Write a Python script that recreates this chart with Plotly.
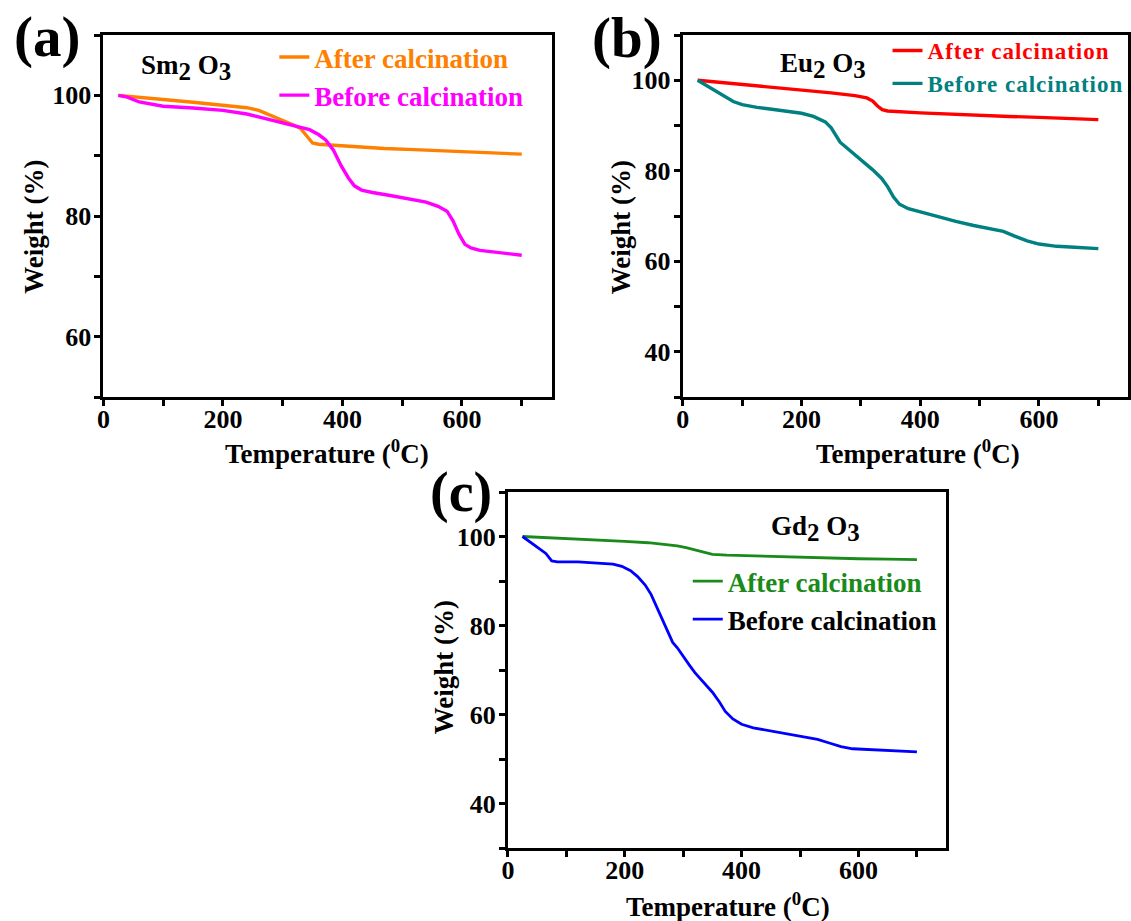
import plotly.graph_objects as go

# ---------------- data ----------------
# (a) Sm2O3
a_after_T = [25, 50, 100, 150, 200, 240, 260, 280, 300, 320, 330, 338, 345, 350, 360, 380, 420, 470, 520, 570, 620, 670, 700]
a_after_W = [100, 99.8, 99.3, 98.85, 98.4, 97.95, 97.5, 96.7, 95.8, 95.0, 94.5, 93.6, 92.6, 92.1, 91.9, 91.75, 91.45, 91.2, 91.0, 90.8, 90.6, 90.4, 90.25]
a_before_T = [25, 40, 60, 80, 100, 150, 200, 240, 280, 320, 345, 360, 372, 385, 398, 410, 420, 432, 450, 480, 510, 540, 560, 575, 585, 595, 605, 615, 630, 660, 700]
a_before_W = [100, 99.7, 98.9, 98.5, 98.2, 97.9, 97.5, 96.9, 95.9, 94.9, 94.3, 93.5, 92.6, 90.9, 88.3, 86.3, 85.0, 84.3, 83.9, 83.4, 82.9, 82.3, 81.6, 80.8, 79.2, 77.0, 75.3, 74.7, 74.3, 73.9, 73.5]

# (b) Eu2O3
b_after_T = [25, 100, 150, 200, 250, 290, 310, 320, 328, 336, 345, 400, 450, 500, 550, 600, 650, 700]
b_after_W = [100, 99.1, 98.5, 97.9, 97.2, 96.6, 96.1, 95.4, 94.3, 93.5, 93.2, 92.8, 92.5, 92.2, 92.0, 91.8, 91.6, 91.3]
b_before_T = [25, 40, 55, 70, 85, 100, 125, 150, 175, 200, 220, 240, 250, 258, 265, 275, 290, 305, 320, 335, 345, 355, 365, 380, 400, 430, 460, 490, 520, 540, 560, 580, 600, 630, 660, 700]
b_before_W = [100, 98.8, 97.5, 96.3, 95.3, 94.6, 94.0, 93.6, 93.2, 92.7, 92.0, 90.8, 89.5, 87.8, 86.3, 85.2, 83.6, 81.8, 80.2, 78.3, 76.5, 74.2, 72.6, 71.6, 70.9, 69.8, 68.8, 67.9, 67.1, 66.6, 65.5, 64.5, 63.8, 63.3, 63.1, 62.8]

# (c) Gd2O3
c_after_T = [25, 60, 100, 150, 200, 240, 270, 290, 305, 320, 335, 350, 375, 400, 450, 500, 550, 600, 650, 700]
c_after_W = [100, 99.8, 99.5, 99.2, 98.9, 98.6, 98.2, 97.9, 97.5, 97.0, 96.4, 96.0, 95.8, 95.7, 95.5, 95.3, 95.1, 95.0, 94.9, 94.8]
c_before_T = [25, 40, 55, 65, 75, 85, 120, 150, 180, 195, 210, 222, 235, 245, 255, 265, 275, 282, 290, 300, 310, 320, 335, 350, 362, 372, 385, 400, 420, 450, 480, 510, 530, 550, 570, 590, 620, 650, 700]
c_before_W = [100, 98.5, 97.1, 96.2, 94.5, 94.3, 94.3, 94.1, 93.8, 93.3, 92.3, 91.0, 89.1, 87.0, 84.0, 81.0, 78.3, 76.2, 75.0, 73.0, 71.2, 69.4, 67.3, 65.0, 62.8, 60.7, 59.0, 57.8, 57.0, 56.3, 55.6, 55.0, 54.4, 53.6, 52.8, 52.3, 52.1, 51.9, 51.6]

x_tick_labels = ["0", "200", "400", "600"]
x_tick_vals = [0, 200, 400, 600]
x_title = "Temperature (<sup>0</sup>C)"
y_title = "Weight (%)"

W, H = 1131, 921
FONT = "Liberation Serif, Times New Roman, serif"

def px_x(p):
    return p / W

def px_y(p):
    return 1 - p / H

fig = go.Figure()

def lbl(text, color, spacing=None):
    style = f"color:{color}"
    if spacing:
        style += f";letter-spacing:{spacing}px"
    return f'<span style="{style}">{text}</span>'

# panel a
fig.add_trace(go.Scatter(x=a_after_T, y=a_after_W, mode="lines", line=dict(color="#FF8000", width=3.4),
                         name=lbl("After calcination", "#FF8000"), xaxis="x", yaxis="y", legend="legend"))
fig.add_trace(go.Scatter(x=a_before_T, y=a_before_W, mode="lines", line=dict(color="#FF00FF", width=3.4),
                         name=lbl("Before calcination", "#FF00FF"), xaxis="x", yaxis="y", legend="legend"))
# panel b
fig.add_trace(go.Scatter(x=b_after_T, y=b_after_W, mode="lines", line=dict(color="#FF0000", width=3.4),
                         name=lbl("After calcination", "#FF0000", 1), xaxis="x2", yaxis="y2", legend="legend2"))
fig.add_trace(go.Scatter(x=b_before_T, y=b_before_W, mode="lines", line=dict(color="#008080", width=3.4),
                         name=lbl("Before calcination", "#008080", 1), xaxis="x2", yaxis="y2", legend="legend2"))
# panel c
fig.add_trace(go.Scatter(x=c_after_T, y=c_after_W, mode="lines", line=dict(color="#1A8A1A", width=2.8),
                         name=lbl("After calcination", "#1A8A1A"), xaxis="x3", yaxis="y3", legend="legend3"))
fig.add_trace(go.Scatter(x=c_before_T, y=c_before_W, mode="lines", line=dict(color="#0000FF", width=2.8),
                         name=lbl("Before calcination", "#000000"), xaxis="x3", yaxis="y3", legend="legend3"))

def xaxis(domain, anchor):
    return dict(domain=domain, anchor=anchor, range=[0, 750], tickvals=x_tick_vals, ticktext=x_tick_labels,
                showline=True, linecolor="black", linewidth=3, mirror=True,
                ticks="outside", ticklen=6, tickwidth=2.5, tickcolor="black",
                minor=dict(ticks="outside", ticklen=6, tickwidth=2.5, tickcolor="black", dtick=100, tick0=0),
                showgrid=False, zeroline=False, ticklabelstandoff=-9,
                tickfont=dict(family=FONT, size=26, color="black", weight="bold"))

def yaxis(domain, anchor, rng):
    return dict(domain=domain, anchor=anchor, range=rng, dtick=20, tick0=0,
                showline=True, linecolor="black", linewidth=3, mirror=True,
                ticks="outside", ticklen=6, tickwidth=2.5, tickcolor="black",
                minor=dict(ticks="outside", ticklen=6, tickwidth=2.5, tickcolor="black", dtick=10, tick0=0),
                showgrid=False, zeroline=False, ticklabelstandoff=-2,
                tickfont=dict(family=FONT, size=26, color="black", weight="bold"))

ya_dom = [px_y(397), px_y(35)]
yc_dom = [px_y(848), px_y(492)]

fig.update_layout(
    width=W, height=H,
    margin=dict(l=0, r=0, t=0, b=0),
    paper_bgcolor="white", plot_bgcolor="white",
    showlegend=True,
    xaxis=xaxis([px_x(97), px_x(548)], "y"),
    yaxis=yaxis(ya_dom, "x", [50, 110]),
    xaxis2=xaxis([px_x(680), px_x(1128)], "y2"),
    yaxis2=yaxis(ya_dom, "x2", [30, 110]),
    xaxis3=xaxis([px_x(504), px_x(945)], "y3"),
    yaxis3=yaxis(yc_dom, "x3", [30, 110]),
    legend=dict(x=px_x(269), y=px_y(33), xanchor="left", yanchor="top", bgcolor="rgba(0,0,0,0)",
                font=dict(family=FONT, size=27, weight="bold"), tracegroupgap=0, itemwidth=30),
    legend2=dict(x=px_x(886), y=px_y(29), xanchor="left", yanchor="top", bgcolor="rgba(0,0,0,0)",
                 font=dict(family=FONT, size=23, weight="bold"), tracegroupgap=0, itemwidth=30),
    legend3=dict(x=px_x(685), y=px_y(557), xanchor="left", yanchor="top", bgcolor="rgba(0,0,0,0)",
                 font=dict(family=FONT, size=27, weight="bold"), tracegroupgap=0, itemwidth=30),
)

sub = lambda d: f'<sub><span style="font-size:25px">{d}</span></sub>'
annos = [
    dict(text="(a)", x=40, y=37, size=57),
    dict(text="(b)", x=624, y=38, size=57),
    dict(text="(c)", x=457, y=492, size=56),
    dict(text=f"Sm{sub(2)} O{sub(3)}", x=180, y=67, size=27),
    dict(text=f"Eu{sub(2)} O{sub(3)}", x=821, y=65, size=27),
    dict(text=f"Gd{sub(2)} O{sub(3)}", x=814, y=528, size=27),
    dict(text=x_title, x=322, y=452, size=27),
    dict(text=x_title, x=917, y=452, size=27),
    dict(text=x_title, x=725, y=905, size=27),
]
for a in annos:
    fig.add_annotation(text=a["text"], x=px_x(a["x"]), y=px_y(a["y"]), xref="paper", yref="paper",
                       xanchor="center", yanchor="middle", showarrow=False,
                       font=dict(family=FONT, size=a["size"], color="black", weight="bold"))

for (xx, yy) in [(27, 227), (618, 227), (440, 667)]:
    fig.add_annotation(text=y_title, x=px_x(xx), y=px_y(yy), xref="paper", yref="paper",
                       xanchor="center", yanchor="middle", showarrow=False, textangle=-90,
                       font=dict(family=FONT, size=27, color="black", weight="bold"))

fig.write_html("out.html")
